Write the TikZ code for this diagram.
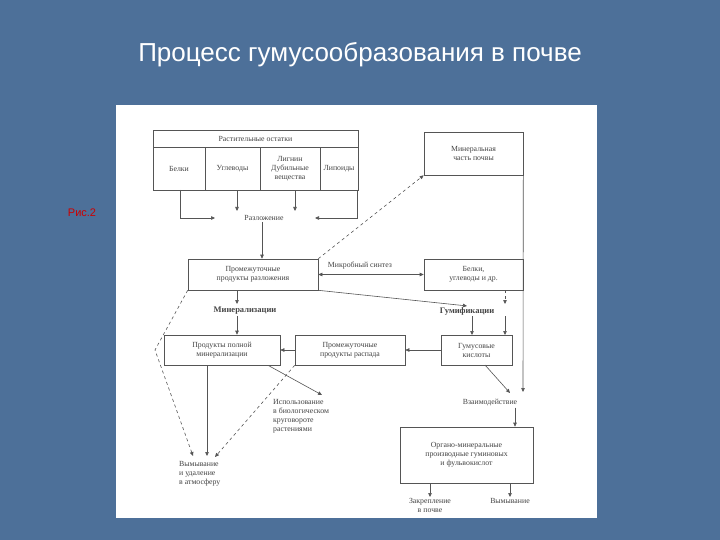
\documentclass[tikz,border=0pt]{standalone}
\usepackage{fontspec}
\setmainfont{Liberation Serif}
\newfontfamily\titlefont{Liberation Sans}
\usetikzlibrary{arrows.meta}
\definecolor{bg}{HTML}{4D7099}
\definecolor{ln}{HTML}{555555}
\definecolor{tx}{HTML}{444444}
\begin{document}
\begin{tikzpicture}[x=1pt,y=-1pt,
  bx/.style={draw=ln,line width=0.6pt,minimum width=#1,align=center,inner sep=1pt,font=\fontsize{7.8}{9}\selectfont,text=tx},
  lb/.style={align=center,font=\fontsize{7.8}{9}\selectfont,text=tx,inner sep=1pt},
  ar/.style={draw=ln,line width=0.6pt,-{Triangle[length=4pt,width=3.5pt]}},
  da/.style={ar,dashed}]
\useasboundingbox (0,0) rectangle (720,540);
\fill[bg] (0,0) rectangle (720,540);
\node[text=white,font=\titlefont\fontsize{26}{30}\selectfont] (title) at (360,55) {Процесс гумусообразования в почве};
\node[text=red!80!black,font=\titlefont\fontsize{11}{12}\selectfont] (fig) at (82,213) {Рис.2};
\fill[white] (116,105) rectangle (597,518);
% top table
\node[bx=205pt,minimum height=17pt] (ost) at (255.5,138.5) {Растительные остатки};
\node[bx=52pt,minimum height=43pt] (bel) at (179,168.5) {Белки};
\node[bx=55pt,minimum height=43pt] (ugl) at (232.5,168.5) {Углеводы};
\node[bx=60pt,minimum height=43pt] (lig) at (290,168.5) {Лигнин\\Дубильные\\вещества};
\node[bx=38pt,minimum height=43pt] (lip) at (339,168.5) {Липоиды};
\node[lb] (raz) at (264,218) {Разложение};
\node[bx=99pt,minimum height=43pt] (min) at (473.5,153.5) {Минеральная\\часть почвы};
\node[bx=130pt,minimum height=31pt] (prom) at (253,274.5) {Промежуточные\\продукты разложения};
\node[bx=99pt,minimum height=31pt] (bu) at (473.5,274.5) {Белки,\\углеводы и др.};
\node[lb] (ms) at (360,266) {Микробный синтез};
\node[lb,font=\bfseries\fontsize{8.5}{10}\selectfont] (mnz) at (245,311) {Минерализации};
\node[lb,font=\bfseries\fontsize{8.5}{10}\selectfont] (gum) at (467,311) {Гумификации};
\node[bx=116pt,minimum height=30pt] (ppm) at (222,350) {Продукты полной\\минерализации};
\node[bx=110pt,minimum height=30pt] (ppr) at (350,350) {Промежуточные\\продукты распада};
\node[bx=71pt,minimum height=30pt] (gk) at (476.5,350) {Гумусовые\\кислоты};
\node[lb,align=left,anchor=north west] (isp) at (272,398) {Использование\\в биологическом\\круговороте\\растениями};
\node[lb,align=left,anchor=north west] (vym) at (178,460) {Вымывание\\и удаление\\в атмосферу};
\node[lb] (vz) at (490,403) {Взаимодействие};
\node[bx=133pt,minimum height=56pt] (org) at (466.5,455) {Органо-минеральные\\производные гуминовых\\и фульвокислот};
\node[lb,anchor=north] (zak) at (430,497) {Закрепление\\в почве};
\node[lb,anchor=north] (vy2) at (510,497) {Вымывание};
\coordinate (b1) at (180,190); \coordinate (b1e) at (215,218);
\coordinate (l1) at (357,190); \coordinate (l1e) at (315,218);
% arrows
\draw[ar] (b1) |- (b1e);
\draw[ar] (lig.south -| 237,0) -- (237,211);
\draw[ar] (lig.south -| 295,0) -- (295,211);
\draw[ar] (l1) |- (l1e);
\draw[ar] (raz.south -| 262,0) -- (prom.north -| 262,0);
\draw[da] (prom.north east) -- (min.south west);
\draw[{Triangle[length=4pt,width=3.5pt]}-{Triangle[length=4pt,width=3.5pt]},draw=ln,line width=0.6pt] (prom.east) -- (bu.west);
\draw[ar] (prom.south -| 237,0) -- (237,304);
\draw[ar] (prom.south east) -- (gum.north);
\draw[da] (bu.south -| 505,0) -- (505,304);
\draw[ar] (mnz.south -| 237,0) -- (ppm.north -| 237,0);
\draw[ar] (gum.south -| 472,0) -- (472,335);
\draw[ar] (gum.south -| 505,0) -- (505,335);
\draw[ar] (gk.west) -- (ppr.east);
\draw[ar] (ppr.west) -- (ppm.east);
\draw[ar] (min.east |- 0,175) -- (523,392);
\draw[ar] (ppm.south -| 268,0) -- (322,395);
\draw[ar] (ppm.south -| 207,0) -- (207,456);
\draw[da] (ppr.south west) -- (215,457);
\draw[da] (prom.south west) -- (155,350) -- (193,456);
\draw[ar] (485,365) -- (510,393);
\draw[ar] (vz.south -| 515,0) -- (org.north -| 515,0);
\draw[ar] (org.south -| zak) -- (zak.north);
\draw[ar] (org.south -| vy2) -- (vy2.north);
\end{tikzpicture}
\end{document}
